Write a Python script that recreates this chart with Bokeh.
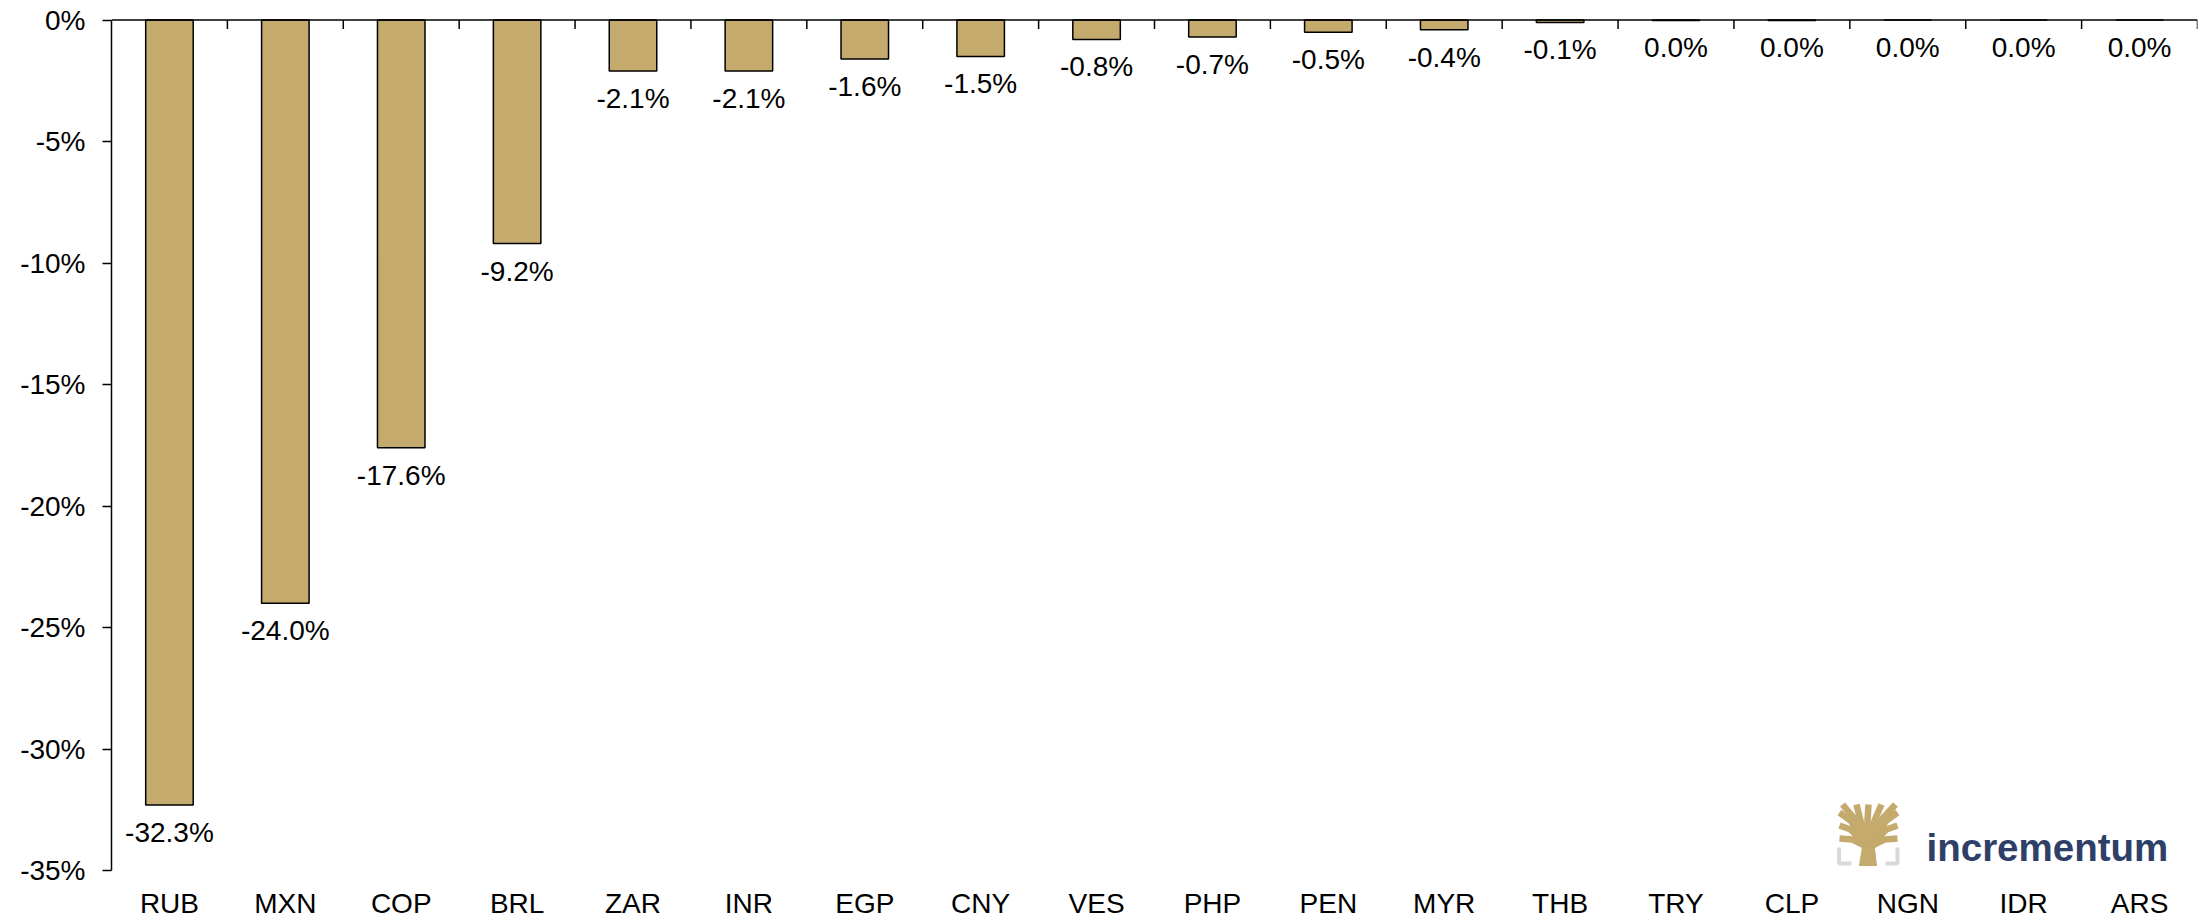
import math
from bokeh.plotting import figure
from bokeh.models import Range1d, FixedTicker, Span, ColumnDataSource
from bokeh.core.properties import value
from bokeh.embed import file_html
from bokeh.resources import INLINE

# ---- data ----
categories = ["RUB", "MXN", "COP", "BRL", "ZAR", "INR", "EGP", "CNY", "VES",
              "PHP", "PEN", "MYR", "THB", "TRY", "CLP", "NGN", "IDR", "ARS"]
changes = [-32.3, -24.0, -17.6, -9.2, -2.1, -2.1, -1.6, -1.5, -0.8,
           -0.7, -0.5, -0.4, -0.1, -0.02, -0.02, 0.0, 0.0, 0.0]
y_ticks = [0, -5, -10, -15, -20, -25, -30, -35]
y_tick_labels = ["0%", "-5%", "-10%", "-15%", "-20%", "-25%", "-30%", "-35%"]

# ---- layout ----
W, H = 2208, 919
BL, BR, BT, BB = 111, 11, 18, 0
frame_w = W - BL - BR
frame_h = H - BT - BB
PX_Y = 24.3
n = len(categories)
PX_X = frame_w / n
y_top = 1.5 / PX_Y
y_bot = y_top - frame_h / PX_Y

FONT = "Liberation Sans"
GOLD = "#C4AA6C"

p = figure(width=W, height=H, output_backend="svg", toolbar_location=None,
           x_range=Range1d(0, n), y_range=Range1d(y_bot, y_top),
           x_axis_type=None, min_border_left=BL, min_border_right=BR,
           min_border_top=BT, min_border_bottom=BB)
p.outline_line_color = None
p.xgrid.visible = False
p.ygrid.visible = False
p.background_fill_color = "white"
p.border_fill_color = "white"

xs = [i + 0.5 for i in range(n)]
labels = [f"{round(v, 1) + 0.0:.1f}%" for v in changes]
src = ColumnDataSource(dict(x=xs, v=changes, zero=[0] * n, cat=categories,
                            lab=labels, ybot=[y_ticks[-1]] * n))

p.vbar(x="x", top="zero", bottom="v", width=0.41, source=src,
       fill_color=GOLD, line_color="black", line_width=1.5)

# zero line and category separator ticks
p.add_layout(Span(location=0, dimension="width", line_color="black", line_width=1.5))
p.ray(x=list(range(1, n + 1)), y=[0] * n, length=9, length_units="screen",
      angle=-math.pi / 2, line_color="black", line_width=1.5)

# data labels
p.text(x="x", y="v", text="lab", source=src, text_font=value(FONT),
       text_font_size="28px", text_align="center", text_baseline="top",
       y_offset=12, text_color="black")

# category labels at bottom
p.text(x="x", y="ybot", text="cat", source=src, text_font=value(FONT),
       text_font_size="28px", text_align="center", text_baseline="middle",
       y_offset=33, text_color="black")

# y axis
ax = p.yaxis[0]
ax.ticker = FixedTicker(ticks=y_ticks)
ax.major_label_overrides = {t: l for t, l in zip(y_ticks, y_tick_labels)}
ax.bounds = (y_ticks[-1], y_ticks[0])
ax.minor_tick_line_color = None
ax.major_tick_in = 0
ax.major_tick_out = 9
ax.major_tick_line_width = 1.5
ax.axis_line_width = 1.5
ax.axis_line_color = "black"
ax.major_label_standoff = 17
ax.major_label_text_font = FONT
ax.major_label_text_font_size = "28px"
ax.major_label_text_color = "black"

# ---- logo (decoration, placed in screen-pixel terms) ----
def to_data(sx, sy):
    fx = sx - BL
    fy = sy - BT
    return fx / PX_X, y_top - fy / PX_Y

ox, oy = 1830, 798
trunk = [(29, 67), (46, 67), (43, 42), (33, 42)]
tx, ty = zip(*[to_data(ox + a, oy + b) for a, b in trunk])
p.patch(list(tx), list(ty), fill_color=GOLD, line_color=GOLD)

branches = [
    [(34, 47), (22, 41), (9, 40)],
    [(34, 45), (20, 31), (9, 27)],
    [(35, 44), (20, 22), (9, 14)],
    [(36, 43), (24, 20), (12, 6)],
    [(37, 43), (30, 22), (26, 6)],
    [(38, 43), (37, 22), (38, 6)],
    [(39, 43), (44, 22), (51, 6)],
    [(40, 43), (52, 20), (65, 6)],
    [(41, 44), (56, 22), (67, 14)],
    [(42, 45), (56, 31), (67, 27)],
    [(42, 47), (54, 41), (67, 40)],
]
bxs, bys = [], []
for br in branches:
    pts = [to_data(ox + a, oy + b) for a, b in br]
    bxs.append([q[0] for q in pts])
    bys.append([q[1] for q in pts])
p.multi_line(bxs, bys, line_color=GOLD, line_width=6.5, line_cap="butt",
             line_join="round")

brackets = [[(8.5, 49), (8.5, 65), (21, 65)], [(67, 49), (67, 65), (55, 65)]]
gxs, gys = [], []
for br in brackets:
    pts = [to_data(ox + a, oy + b) for a, b in br]
    gxs.append([q[0] for q in pts])
    gys.append([q[1] for q in pts])
p.multi_line(gxs, gys, line_color="#D9D9D9", line_width=4)

lx, ly = to_data(1926, 847)
p.text(x=[lx], y=[ly], text=["incrementum"], text_font=value(FONT),
       text_font_style="bold", text_font_size="38.5px", text_color="#2E4068",
       text_baseline="alphabetic", text_align="left")

open("out.html", "w").write(file_html(p, INLINE))
